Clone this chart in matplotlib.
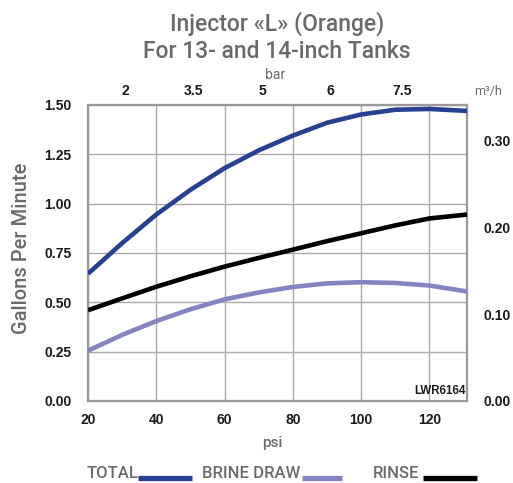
import matplotlib
matplotlib.use("Agg")
import matplotlib.pyplot as plt
from matplotlib.lines import Line2D

psi = [20, 30, 40, 50, 60, 70, 80, 90, 100, 110, 120, 131]
total = [0.645, 0.80, 0.945, 1.07, 1.18, 1.27, 1.345, 1.41, 1.452, 1.476, 1.48, 1.47]
rinse = [0.46, 0.52, 0.579, 0.632, 0.681, 0.725, 0.767, 0.81, 0.85, 0.89, 0.925, 0.945]
brine = [0.255, 0.335, 0.405, 0.465, 0.515, 0.55, 0.578, 0.596, 0.602, 0.598, 0.585, 0.555]

psi_ticks = [20, 40, 60, 80, 100, 120]
gpm_ticks = [0.0, 0.25, 0.5, 0.75, 1.0, 1.25, 1.5]
bar_pos = [31, 51, 71, 91, 112]
bar_labels = ["2", "3.5", "5", "6", "7.5"]
m3h_ticks = [0.0, 0.1, 0.2, 0.3]
GPM_PER_M3H = 4.403

C_TOTAL = "#27408f"
C_BRINE = "#8584c2"
C_RINSE = "#000000"
GRAY = "#6a6a6a"

fig = plt.figure(figsize=(5.13, 4.83), dpi=100)
L, R, T, B = 88, 467, 105, 401
ax = fig.add_axes([L/513, 1-B/483, (R-L)/513, (B-T)/483])
ax.set_xlim(20, 131)
ax.set_ylim(0, 1.5)

ax.plot(psi, total, color=C_TOTAL, lw=3.3, solid_capstyle="butt", solid_joinstyle="round", zorder=3)
ax.plot(psi, rinse, color=C_RINSE, lw=3.3, solid_capstyle="butt", solid_joinstyle="round", zorder=3)
ax.plot(psi, brine, color=C_BRINE, lw=3.3, solid_capstyle="butt", solid_joinstyle="round", zorder=3)

ax.set_xticks(psi_ticks)
ax.set_yticks(gpm_ticks)
ax.set_yticklabels([f"{v:.2f}" for v in gpm_ticks])
ax.grid(True, color="#ababab", lw=1.0)
ax.tick_params(axis="x", length=0, labelsize=10, pad=9)
ax.tick_params(axis="y", length=0, labelsize=10, pad=12)
for lab in ax.get_xticklabels() + ax.get_yticklabels():
    lab.set_fontfamily("Liberation Sans")
    lab.set_fontweight("bold")
    lab.set_color("#1a1a1a")
for s in ax.spines.values():
    s.set_color("#9a9a9a")
    s.set_linewidth(1.6)

axt = ax.twiny()
axt.set_xlim(ax.get_xlim())
axt.set_xticks(bar_pos)
axt.set_xticklabels(bar_labels)
axt.tick_params(length=0, labelsize=10, pad=5)
for lab in axt.get_xticklabels():
    lab.set_fontfamily("Liberation Sans")
    lab.set_fontweight("bold")
    lab.set_color("#1a1a1a")

axr = ax.twinx()
axr.set_ylim(0, 1.5 / GPM_PER_M3H)
axr.set_yticks(m3h_ticks)
axr.set_yticklabels([f"{v:.2f}" for v in m3h_ticks])
axr.tick_params(length=0, labelsize=10, pad=12)
for lab in axr.get_yticklabels():
    lab.set_fontfamily("Liberation Sans")
    lab.set_fontweight("bold")
    lab.set_color("#1a1a1a")
for a in (axt, axr):
    for s in a.spines.values():
        s.set_visible(False)

ax.text(0.997, 0.012, "LWR6164", transform=ax.transAxes, ha="right", va="bottom",
        fontsize=8.3, fontfamily="Liberation Sans", fontweight="bold", color="#1a1a1a", zorder=5)

tkw = dict(color=GRAY, fontfamily="Roboto", fontweight="medium")
fig.text(277/513, 1-24/483, "Injector «L» (Orange)", ha="center", va="center", fontsize=16.5, **tkw)
fig.text(277/513, 1-51/483, "For 13- and 14-inch Tanks", ha="center", va="center", fontsize=16.5, **tkw)
fig.text(275/513, 1-75/483, "bar", ha="center", va="center", fontsize=10, color=GRAY,
         fontfamily="Roboto")
fig.text(488/513, 1-92/483, "m³/h", ha="center", va="center", fontsize=9, color=GRAY,
         fontfamily="Roboto")
fig.text(272/513, 1-443/483, "psi", ha="center", va="center", fontsize=11, **tkw)
fig.text(22/513, 1-248/483, "Gallons Per Minute", ha="center", va="center", rotation=90,
         fontsize=14.5, **tkw)

ly = 1-474/483
lky = 1-477.5/483
fig.text(87/513, ly, "TOTAL", ha="left", va="center", fontsize=12, **tkw)
fig.add_artist(Line2D([138/513, 192/513], [lky, lky], color=C_TOTAL, lw=3.8, solid_capstyle="butt"))
fig.text(202/513, ly, "BRINE DRAW", ha="left", va="center", fontsize=12, **tkw)
fig.add_artist(Line2D([302/513, 342/513], [lky, lky], color=C_BRINE, lw=3.8, solid_capstyle="butt"))
fig.text(373/513, ly, "RINSE", ha="left", va="center", fontsize=12, **tkw)
fig.add_artist(Line2D([423/513, 477/513], [lky, lky], color=C_RINSE, lw=3.8, solid_capstyle="butt"))

fig.savefig("out.png", dpi=100)
